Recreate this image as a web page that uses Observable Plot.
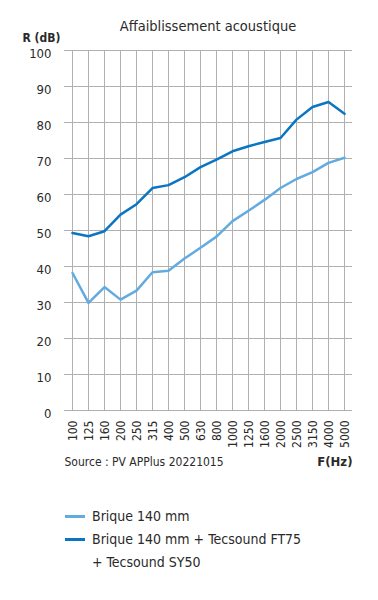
<!DOCTYPE html>
<html>
<head>
<meta charset="utf-8">
<script src="https://cdn.jsdelivr.net/npm/d3@7"></script>
<script src="https://cdn.jsdelivr.net/npm/@observablehq/plot@0.6"></script>
<style>
  body { margin: 0; background: #fff; width: 378px; height: 600px; overflow: hidden;
         font-family: "DejaVu Sans Condensed", "Roboto", sans-serif; color: #333; }
  #title { box-sizing: border-box; padding-left: 64px; width: 352px; text-align: center;
           font-size: 14.5px; line-height: 28px; padding-top: 12px; height: 40px; margin-bottom: -20px; color: #2a2a2a; }
  #chart svg { display: block; }
  #legend { position: absolute; left: 0; top: 505px; font-size: 14px; color: #2a2a2a; }
  .item { position: relative; height: 23px; line-height: 23px; padding-left: 92px; }
  .sw { position: absolute; left: 65px; top: 10px; width: 20px; height: 3px; }
</style>
</head>
<body>
<div id="title">Affaiblissement acoustique</div>
<div id="chart"></div>
<div id="legend"></div>
<script>
const freqs = ["100","125","160","200","250","315","400","500","630","800","1000","1250","1600","2000","2500","3150","4000","5000"];
const brique = [38.2,29.9,34.3,30.8,33.3,38.4,38.8,42.2,45.2,48.3,52.6,55.5,58.5,61.8,64.3,66.2,68.8,70.2];
const briqueTec = [49.3,48.4,49.8,54.4,57.3,61.8,62.6,64.8,67.6,69.7,72.0,73.4,74.6,75.7,80.8,84.3,85.7,82.4];
const yTicks = [0,10,20,30,40,50,60,70,80,90,100];
const seriesNames = ["Brique 140 mm", "Brique 140 mm + Tecsound FT75", "+ Tecsound SY50"];
const colors = ["#62abe0", "#0a75c2"];
const yLabel = "R (dB)";
const xLabel = "F(Hz)";
const source = "Source : PV APPlus 20221015";

const d1 = freqs.map((f, i) => ({f, v: brique[i]}));
const d2 = freqs.map((f, i) => ({f, v: briqueTec[i]}));

const chart = Plot.plot({
  width: 378, height: 460,
  marginTop: 30, marginLeft: 64, marginRight: 26, marginBottom: 70,
  style: {fontFamily: "'DejaVu Sans Condensed', Roboto, sans-serif", fontSize: "13px", color: "#2a2a2a", background: "transparent"},
  x: {type: "point", domain: freqs, padding: 0, label: null},
  y: {domain: [0, 100], label: null},
  marks: [
    Plot.gridX({stroke: "#b0b0b0", strokeOpacity: 1}),
    Plot.gridY(yTicks, {stroke: "#b0b0b0", strokeOpacity: 1}),
    Plot.axisY(yTicks, {tickSize: 0, tickPadding: 13, fontSize: 13, dy: 3, label: null}),
    Plot.axisX({tickSize: 0, tickRotate: -90, tickPadding: 10, fontSize: 12, dx: 1, label: null}),
    Plot.line(d1, {x: "f", y: "v", stroke: colors[0], strokeWidth: 2.5}),
    Plot.line(d2, {x: "f", y: "v", stroke: colors[1], strokeWidth: 2.5}),
    Plot.text([yLabel], {frameAnchor: "top-left", dx: -42, dy: -17, textAnchor: "start", fontWeight: "bold", fontSize: 12}),
    Plot.text([source], {frameAnchor: "bottom-left", dy: 55, textAnchor: "start", fontSize: 12}),
    Plot.text([xLabel], {frameAnchor: "bottom-right", dy: 55, textAnchor: "end", fontWeight: "bold", fontSize: 13})
  ]
});
document.getElementById("chart").appendChild(chart);

const legend = document.getElementById("legend");
seriesNames.forEach((name, i) => {
  const it = document.createElement("div");
  it.className = "item";
  if (i < 2) {
    const sw = document.createElement("span");
    sw.className = "sw";
    sw.style.background = colors[i];
    it.appendChild(sw);
  }
  it.appendChild(document.createTextNode(name));
  legend.appendChild(it);
});
</script>
</body>
</html>
